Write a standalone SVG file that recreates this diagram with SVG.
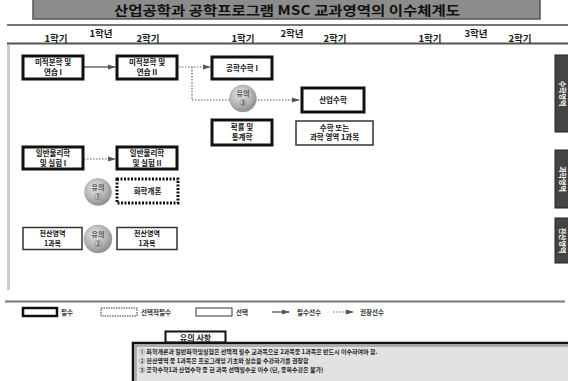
<svg xmlns="http://www.w3.org/2000/svg" width="568" height="381" viewBox="0 0 568 381">
<defs>
<style>
text{font-family:"Noto Sans CJK KR","Noto Sans",sans-serif;font-weight:bold;fill:#1a1a1a}
.hd{font-size:9.5px;text-anchor:middle}
.bx{font-size:7.5px;text-anchor:middle;fill:#111}
.bs{font-size:7px;text-anchor:middle;fill:#111}
.req{fill:#fff;stroke:#111;stroke-width:3}
.opt{fill:#fff;stroke:#333;stroke-width:1.5}
.sel{fill:#fff;stroke:#111;stroke-width:3;stroke-dasharray:2 1.5}
.solid{stroke:#444;stroke-width:1.2;fill:none}
.dot{stroke:#666;stroke-width:1.2;fill:none;stroke-dasharray:1.5 1.5}
.tab{fill:#444;stroke:#222;stroke-width:1}
.tabt{font-size:7px;fill:#fff;text-anchor:middle}
.ct{font-size:7px;fill:#555;text-anchor:middle}
.lg{font-size:6.5px;fill:#333}
.nt{font-size:6px;fill:#222}
</style>
<radialGradient id="ball" cx="0.4" cy="0.35" r="0.7">
<stop offset="0" stop-color="#e6e6e6"/>
<stop offset="0.6" stop-color="#b3b3b3"/>
<stop offset="1" stop-color="#888"/>
</radialGradient>
<marker id="ah" markerWidth="8" markerHeight="6" refX="7" refY="3" orient="auto" markerUnits="userSpaceOnUse">
<path d="M0,0.5 L8,3 L0,5.5 z" fill="#555"/>
</marker>
</defs>
<rect width="568" height="381" fill="#fff"/>

<g id="title">
<rect x="33" y="-4" width="507" height="23" fill="#8c8c8c" stroke="#555" stroke-width="1.5"/>
<text x="287" y="15" font-size="13" text-anchor="middle" textLength="346" lengthAdjust="spacingAndGlyphs" style="fill:#111">산업공학과 공학프로그램 MSC 교과영역의 이수체계도</text>
</g>

<g id="header">
<line x1="7" y1="25" x2="568" y2="25" stroke="#777" stroke-width="2"/>
<line x1="7" y1="43.5" x2="568" y2="43.5" stroke="#555" stroke-width="2"/>
<text class="hd" x="56" y="42">1학기</text>
<text class="hd" x="101" y="37">1학년</text>
<text class="hd" x="148" y="42">2학기</text>
<text class="hd" x="243" y="42">1학기</text>
<text class="hd" x="292" y="37">2학년</text>
<text class="hd" x="335" y="42">2학기</text>
<text class="hd" x="430" y="42">1학기</text>
<text class="hd" x="476" y="37">3학년</text>
<text class="hd" x="520" y="42">2학기</text>
<rect x="7" y="45" width="3" height="245" fill="#ccc"/>
</g>

<g id="tabs">
<rect class="tab" x="555" y="55" width="14" height="77"/>
<text class="tabt" transform="translate(562,93.5) rotate(90)" y="2.5">수학영역</text>
<rect class="tab" x="555" y="150" width="14" height="58"/>
<text class="tabt" transform="translate(562,179) rotate(90)" y="2.5">과학영역</text>
<rect class="tab" x="555" y="218" width="14" height="45"/>
<text class="tabt" transform="translate(562,240.5) rotate(90)" y="2.5">전산영역</text>
</g>

<g id="connectors">
<line class="solid" x1="84" y1="67" x2="115" y2="67" marker-end="url(#ah)"/>
<line class="dot" x1="179" y1="67" x2="210" y2="67" marker-end="url(#ah)"/>
<polyline class="dot" points="192,67 192,100 299,100" marker-end="url(#ah)"/>
<line class="dot" x1="84" y1="159" x2="115" y2="159" marker-end="url(#ah)"/>
</g>

<g id="calc1"><rect class="req" x="23" y="56" width="60" height="23"/><text class="bx" x="53" y="65">미적분학 및</text><text class="bx" x="53" y="74.5">연습 I</text></g>
<g id="calc2"><rect class="req" x="117" y="56" width="60" height="23"/><text class="bx" x="147" y="65">미적분학 및</text><text class="bx" x="147" y="74.5">연습 II</text></g>
<g id="engmath"><rect class="req" x="212" y="57" width="60" height="22"/><text class="bx" x="242" y="70.5">공학수학 I</text></g>
<g id="note3"><circle cx="243" cy="98.5" r="13.5" fill="url(#ball)" stroke="#999" stroke-width="0.5"/><text class="ct" x="243" y="96">유의</text><text class="ct" x="243" y="105">③</text></g>
<g id="indmath"><rect class="req" x="302" y="88" width="62" height="24"/><text class="bx" x="333" y="102.5">산업수학</text></g>
<g id="stat"><rect class="req" x="212" y="120" width="60" height="25"/><text class="bx" x="242" y="130">확률 및</text><text class="bx" x="242" y="140">통계학</text></g>
<g id="mathsci"><rect class="opt" x="296" y="121" width="77" height="24"/><text class="bx" x="334.5" y="130.5">수학 또는</text><text class="bx" x="334.5" y="140">과학 영역  1과목</text></g>

<g id="phys1"><rect class="req" x="23" y="147" width="60" height="22"/><text class="bx" x="53" y="156">일반물리학</text><text class="bx" x="53" y="165.5">및 실험 I</text></g>
<g id="phys2"><rect class="req" x="117" y="147" width="60" height="22"/><text class="bx" x="147" y="156">일반물리학</text><text class="bx" x="147" y="165.5">및 실험 II</text></g>
<g id="note1"><circle cx="98" cy="192" r="13.5" fill="url(#ball)" stroke="#999" stroke-width="0.5"/><text class="ct" x="98" y="189.5">유의</text><text class="ct" x="98" y="198.5">①</text></g>
<g id="chem"><rect class="sel" x="117" y="179" width="61" height="24"/><text class="bx" x="147.5" y="193.5">화학개론</text></g>

<g id="comp1"><rect class="opt" x="23" y="227.5" width="59" height="22"/><text class="bs" x="52.5" y="235.5">전산영역</text><text class="bs" x="52.5" y="245.8">1과목</text></g>
<g id="note2"><circle cx="98" cy="239" r="14" fill="url(#ball)" stroke="#999" stroke-width="0.5"/><text class="ct" x="98" y="236.5">유의</text><text class="ct" x="98" y="245.5">②</text></g>
<g id="comp2"><rect class="opt" x="117" y="227.5" width="60" height="22"/><text class="bs" x="147" y="235.5">전산영역</text><text class="bs" x="147" y="245.8">1과목</text></g>

<g id="legend">
<line x1="5" y1="301.5" x2="565" y2="301.5" stroke="#777" stroke-width="2"/>
<rect x="23" y="308" width="34" height="8" fill="#fff" stroke="#111" stroke-width="2.5"/>
<text class="lg" x="61" y="315">필수</text>
<rect x="101" y="308" width="36" height="8" fill="#fff" stroke="#333" stroke-width="1" stroke-dasharray="1.5 1"/>
<text class="lg" x="141" y="315">선택적필수</text>
<rect x="196" y="308" width="36" height="8" fill="#fff" stroke="#333" stroke-width="1"/>
<text class="lg" x="236" y="315">선택</text>
<line class="solid" x1="272" y1="312" x2="289" y2="312" marker-end="url(#ah)"/>
<text class="lg" x="297" y="315">필수선수</text>
<line class="dot" x1="333" y1="312" x2="353" y2="312" marker-end="url(#ah)"/>
<text class="lg" x="360" y="315">권장선수</text>
</g>

<g id="notes">
<rect x="165.5" y="331.5" width="60" height="11" fill="#fff" stroke="#111" stroke-width="2"/>
<text x="195.5" y="340.5" font-size="8" text-anchor="middle">유의 사항</text>
<rect x="133" y="343" width="440" height="42" fill="#d9d9d9" stroke="#111" stroke-width="2.5"/>
<rect x="136" y="346" width="440" height="40" fill="#e2e2e2" stroke="#666" stroke-width="0.8"/>
<text class="nt" x="139" y="354">① 화학개론과 일반화학및실험은 선택적 필수 교과목으로 2과목중 1과목은 반드시 이수하여야 함.</text>
<text class="nt" x="139" y="363">② 전산영역 중 1과목은 프로그래밍 기초와 실습을 수강하기를 권장함</text>
<text class="nt" x="139" y="372">③ 공학수학1과 산업수학 중 한 과목 선택필수로 이수 (단, 중복수강은 불가)</text>
</g>
</svg>
